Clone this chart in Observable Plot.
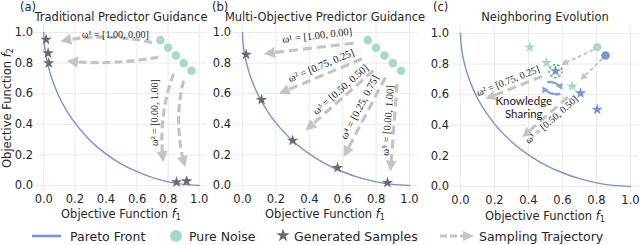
<!DOCTYPE html>
<html><head><meta charset="utf-8">
<script src="https://cdn.jsdelivr.net/npm/d3@7"></script>
<script src="https://cdn.jsdelivr.net/npm/@observablehq/plot@0.6"></script>
<style>
body{margin:0;background:#fff;}
#root{position:relative;width:640px;height:245px;overflow:hidden;font-family:"DejaVu Sans",sans-serif;color:#262626;}
.abs{position:absolute;white-space:nowrap;line-height:1;}
.c{transform:translate(-50%,-50%);}
.t{font-size:11.5px;}
.lab{font-size:11.5px;}
.panel{position:absolute;top:0;}
</style></head>
<body><div id="root"></div>
<script>
// ---- data ----
const ticks = [0, 0.2, 0.4, 0.6, 0.8, 1.0];
const frontF1 = [0, 0.0002, 0.001, 0.005, 0.01, 0.02, 0.03, 0.05, 0.075, 0.1, 0.15, 0.2, 0.3, 0.4, 0.5, 0.6, 0.7, 0.8, 0.9, 1.0];
const frontF2 = [1, 0.986, 0.966, 0.916, 0.876, 0.819, 0.775, 0.704, 0.635, 0.577, 0.484, 0.409, 0.293, 0.207, 0.140, 0.090, 0.051, 0.024, 0.007, 0];
const noiseF1 = [0.75, 0.80, 0.85, 0.90, 0.95];
const noiseF2 = [0.95, 0.90, 0.85, 0.80, 0.75];
const aSampleF1 = [0.015, 0.028, 0.032, 0.854, 0.919];
const aSampleF2 = [0.954, 0.865, 0.800, 0.022, 0.028];
const bSampleF1 = [0.022, 0.114, 0.300, 0.569, 0.868];
const bSampleF2 = [0.856, 0.560, 0.294, 0.116, 0.018];
const aTrajStart = [[0.696, 0.934], [0.736, 0.839], [0.835, 0.730], [0.899, 0.686]];
const aTrajEnd = [[0.106, 0.943], [0.149, 0.813], [0.770, 0.152], [0.910, 0.120]];
const bTrajStart = [[0.665, 0.930], [0.716, 0.828], [0.784, 0.752], [0.856, 0.708], [0.926, 0.665]];
const bTrajEnd = [[0.128, 0.861], [0.217, 0.600], [0.377, 0.359], [0.606, 0.186], [0.886, 0.091]];
const aWeights = ["ω¹ = [1.00, 0.00]", "ω² = [0.00, 1.00]"];
const aWeightPos = [[0.460, 0.987], [0.717, 0.477]];
const bWeights = ["ω¹ = [1.00, 0.00]", "ω² = [0.75, 0.25]", "ω³ = [0.50, 0.50]", "ω⁴ = [0.25, 0.75]", "ω⁵ = [0.00, 1.00]"];
const bWeightPos = [[0.447, 0.980], [0.471, 0.784], [0.587, 0.627], [0.701, 0.512], [0.870, 0.425]];
// panel (c)
const cNoiseTeal = [0.804, 0.910];
const cNoiseBlue = [0.853, 0.856];
const cTealStarF1 = [0.408, 0.506, 0.657];
const cTealStarF2 = [0.910, 0.808, 0.654];
const cBlueStarF1 = [0.559, 0.706, 0.804];
const cBlueStarF2 = [0.754, 0.610, 0.503];
const cBigTrajStart = [[0.480, 0.720], [0.631, 0.584]];
const cBigTrajEnd = [[0.147, 0.573], [0.363, 0.322]];
const cSmallTrajStart = [[0.780, 0.893], [0.834, 0.835]];
const cSmallTrajEnd = [[0.594, 0.796], [0.706, 0.697]];
const cShareStart = [[0.510, 0.682], [0.588, 0.606]];
const cShareEnd = [[0.598, 0.633], [0.481, 0.654]];
const cWeights = ["ω² = [0.75, 0.25]", "ω³ = [0.50, 0.50]"];
const cWeightPos = [[0.280, 0.690], [0.536, 0.436]];
const cFocus = [0.559, 0.754];
const cShareText = ["Knowledge", "Sharing"];
const cShareTextPos = [[0.372, 0.554], [0.372, 0.470]];
const titles = ["Traditional Predictor Guidance", "Multi-Objective Predictor Guidance", "Neighboring Evolution"];
const tags = ["(a)", "(b)", "(c)"];
const legendLabels = ["Pareto Front", "Pure Noise", "Generated Samples", "Sampling Trajectory"];

// ---- styles ----
const BLUE = "#7694cf", TEAL = "#a8d8c9", GRAY = "#6b6b6b", ARROW = "#c4c4c4", GRID = "#e8e8e8";
const front = frontF1.map((x, i) => ({x, y: frontF2[i]}));
const pts = (xs, ys) => xs.map((x, i) => ({x, y: ys[i]}));

const root = document.getElementById("root");
function div(html, cls, css) {
  const d = document.createElement("div");
  d.className = "abs " + cls; d.innerHTML = html; Object.assign(d.style, css); root.appendChild(d); return d;
}
function head(L, W) {
  return {draw(ctx) { ctx.moveTo(0, 0); ctx.lineTo(-W, L); ctx.lineTo(W, L); ctx.closePath(); }};
}

const layout = {
  a: {left: 0, width: 215, height: 215, ml: 35.5, mr: 8.5, mt: 24.35, mb: 22.35},
  b: {left: 215, width: 205, height: 215, ml: 18.65, mr: 2.65, mt: 24.35, mb: 22.35},
  c: {left: 420, width: 220, height: 215, ml: 31.5, mr: 1.5, mt: 25.35, mb: 21.35}
};
function pix(P) {
  return {
    px: x => P.ml + (x + 0.05) / 1.1 * (P.width - P.ml - P.mr),
    py: y => P.mt + (1.05 - y) / 1.1 * (P.height - P.mt - P.mb)
  };
}
function traj(P, starts, ends, bends, st) {
  const {px, py} = pix(P);
  const rows = starts.map((s, i) => {
    const r = {x1: s[0], y1: s[1], x2: ends[i][0], y2: ends[i][1], bend: bends[i]};
    const phi = Math.atan2(py(r.y2) - py(r.y1), px(r.x2) - px(r.x1)) * 180 / Math.PI;
    r.rot = phi + r.bend + 90;
    return r;
  });
  return [
    ...rows.map(r => Plot.arrow([r], {x1: "x1", y1: "y1", x2: "x2", y2: "y2", bend: r.bend, headLength: 0,
      insetEnd: st.L - 1, stroke: st.color, strokeWidth: st.w, strokeDasharray: st.dash, strokeLinecap: "butt"})),
    Plot.dot(rows, {x: "x2", y: "y2", rotate: "rot", symbol: head(st.L, st.W), r: 3, fill: st.color, stroke: "none"})
  ];
}
function labels(P, texts, pos, starts, ends, size) {
  const {px, py} = pix(P);
  const rows = texts.map((t, i) => {
    let rot = 0;
    if (starts) {
      const s = starts[i], e = ends[i];
      rot = Math.atan((py(e[1]) - py(s[1])) / (px(e[0]) - px(s[0]))) * 180 / Math.PI;
    }
    return {t, x: pos[i][0], y: pos[i][1], rot};
  });
  return Plot.text(rows, {x: "x", y: "y", text: "t", rotate: "rot", fontFamily: "Liberation Serif", fontSize: size, fill: "#222"});
}
function panel(P, marks) {
  const svg = Plot.plot({
    width: P.width, height: P.height, marginLeft: P.ml, marginRight: P.mr, marginTop: P.mt, marginBottom: P.mb,
    x: {domain: [-0.05, 1.05]}, y: {domain: [-0.05, 1.05]},
    style: {fontFamily: "DejaVu Sans", fontSize: "11.5px", color: "#262626", overflow: "visible", background: "transparent"},
    marks: [
      Plot.gridX(ticks, {stroke: GRID, strokeOpacity: 1, strokeWidth: 0.9}),
      Plot.gridY(ticks, {stroke: GRID, strokeOpacity: 1, strokeWidth: 0.9}),
      Plot.axisX(ticks, {tickSize: 0, tickPadding: 2, tickFormat: d => d.toFixed(1), label: null, fontSize: 11.5, fill: "#262626"}),
      Plot.axisY(ticks, {tickSize: 0, tickPadding: 3, tickFormat: d => d.toFixed(1), label: null, fontSize: 11.5, fill: "#262626"}),
      Plot.line(front, {x: "x", y: "y", stroke: BLUE, strokeWidth: 1.4, curve: "monotone-x"}),
      ...marks
    ]
  });
  svg.classList.add("panel");
  svg.style.left = P.left + "px";
  root.appendChild(svg);
}

// panel (a)
const A = layout.a;
panel(A, [
  ...traj(A, aTrajStart, aTrajEnd, [-12, 8, -14, -15], {color: ARROW, w: 3.2, dash: "8,4", L: 11, W: 5.5}),
  labels(A, [aWeights[0]], [aWeightPos[0]], null, null, 10),
  Plot.text([{t: aWeights[1], x: aWeightPos[1][0], y: aWeightPos[1][1]}], {x: "x", y: "y", text: "t", rotate: -90, fontFamily: "Liberation Serif", fontSize: 10, fill: "#222"}),
  Plot.dot(pts(noiseF1, noiseF2), {x: "x", y: "y", r: 4.3, fill: TEAL, stroke: "none"}),
  Plot.dot(pts(aSampleF1, aSampleF2), {x: "x", y: "y", r: 3.6, symbol: "star", fill: GRAY, stroke: "none"})
]);
// panel (b)
const B = layout.b;
panel(B, [
  ...traj(B, bTrajStart, bTrajEnd, [0, 0, 0, 0, 0], {color: ARROW, w: 3.2, dash: "9,5", L: 11, W: 5.5}),
  labels(B, bWeights, bWeightPos, bTrajStart, bTrajEnd, 10.5),
  Plot.dot(pts(noiseF1, noiseF2), {x: "x", y: "y", r: 4.3, fill: TEAL, stroke: "none"}),
  Plot.dot(pts(bSampleF1, bSampleF2), {x: "x", y: "y", r: 3.6, symbol: "star", fill: GRAY, stroke: "none"})
]);
// panel (c)
const C = layout.c;
panel(C, [
  ...traj(C, cBigTrajStart, cBigTrajEnd, [0, 0], {color: ARROW, w: 3, dash: "9,5", L: 10, W: 5}),
  ...traj(C, cSmallTrajStart, cSmallTrajEnd, [0, 0], {color: ARROW, w: 1.8, dash: "4,2.5", L: 6.5, W: 3.5}),
  labels(C, cWeights, cWeightPos, cBigTrajStart, cBigTrajEnd, 10),
  Plot.text(cShareText.map((t, i) => ({t, x: cShareTextPos[i][0], y: cShareTextPos[i][1]})), {x: "x", y: "y", text: "t", fontFamily: "Lato", fontSize: 11.5, fill: "#1a1a1a"}),
  Plot.dot(pts(cTealStarF1, cTealStarF2), {x: "x", y: "y", r: 3.6, symbol: "star", fill: TEAL, stroke: "none"}),
  Plot.dot(pts(cBlueStarF1, cBlueStarF2), {x: "x", y: "y", r: 3.6, symbol: "star", fill: BLUE, stroke: "none"}),
  ...traj(C, cShareStart, cShareEnd, [35, 35], {color: "#86a3d8", w: 2.4, dash: null, L: 6, W: 3.5}),
  Plot.dot([{x: cFocus[0], y: cFocus[1]}], {x: "x", y: "y", r: 6.5, fill: "none", stroke: "#3cae4a", strokeWidth: 1.2, strokeDasharray: "2.5,2"}),
  Plot.dot([{x: cNoiseTeal[0], y: cNoiseTeal[1]}], {x: "x", y: "y", r: 4.3, fill: TEAL, stroke: "none"}),
  Plot.dot([{x: cNoiseBlue[0], y: cNoiseBlue[1]}], {x: "x", y: "y", r: 4.3, fill: BLUE, stroke: "none"})
]);

// titles, tags and axis labels
div(tags[0], "t", {left: "20px", top: "2px"});
div(tags[1], "t", {left: "212px", top: "2px"});
div(tags[2], "t", {left: "433px", top: "2px"});
div(titles[0], "t c", {left: "121px", top: "18px"});
div(titles[1], "t c", {left: "325px", top: "18px"});
div(titles[2], "t c", {left: "545px", top: "18px"});
const f1 = "Objective Function <i>f</i><sub style='font-size:8px;vertical-align:-2px'>1</sub>";
div(f1, "lab c", {left: "121px", top: "214.5px"});
div(f1, "lab c", {left: "325px", top: "215px"});
div(f1, "lab c", {left: "545px", top: "216.5px"});
div("Objective Function <i>f</i><sub style='font-size:8px;vertical-align:-2px'>2</sub>", "lab", {left: "8px", top: "108px", transform: "translate(-50%,-50%) rotate(-90deg)"});

// legend
const ns = "http://www.w3.org/2000/svg";
const leg = document.createElementNS(ns, "svg");
leg.setAttribute("width", 640); leg.setAttribute("height", 20);
leg.style.position = "absolute"; leg.style.left = "0px"; leg.style.top = "226px";
const starPath = d3.symbol(d3.symbolStar, 55)();
leg.innerHTML = `
<line x1="32" x2="61" y1="10" y2="10" stroke="${BLUE}" stroke-width="2.6"/>
<circle cx="176" cy="10" r="6" fill="${TEAL}"/>
<path d="${starPath}" transform="translate(283,9.5)" fill="${GRAY}"/>
<line x1="440" x2="464" y1="10" y2="10" stroke="${ARROW}" stroke-width="3" stroke-dasharray="7,3"/>
<path d="M474,10L463,5L463,15Z" fill="${ARROW}"/>
<g font-family="DejaVu Sans" font-size="12.5" fill="#262626" dominant-baseline="central">
<text x="70" y="10">${legendLabels[0]}</text>
<text x="189" y="10">${legendLabels[1]}</text>
<text x="294" y="10">${legendLabels[2]}</text>
<text x="479" y="10">${legendLabels[3]}</text>
</g>`;
root.appendChild(leg);
</script>
</body></html>
